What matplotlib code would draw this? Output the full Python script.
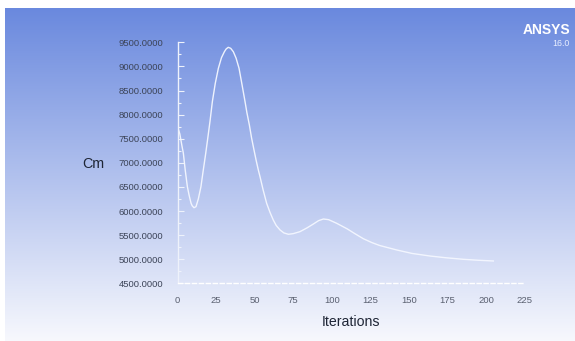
import numpy as np
import matplotlib
matplotlib.use("Agg")
from matplotlib import pyplot as plt
from matplotlib.ticker import MultipleLocator, FormatStrFormatter

# moment coefficient history read from the monitor
iterations = [0, 1.5, 3, 3.8, 5, 6.4, 7.5, 8.8, 9.5, 10.7, 12, 13.5, 15.2,
              16.5, 18.3, 19.5, 21.1, 22.6, 24.5, 26.5, 28.5, 30.4, 31.5,
              32.9, 34.5, 36.2, 38, 39.9, 41.5, 43.8, 45, 46.6, 48, 49.6, 51,
              52.4, 53.5, 55.5, 57.8, 60, 62.1, 64, 66.5, 69, 71.9, 75, 79.4,
              84, 88.1, 91.5, 94.6, 98, 103.2, 110, 115, 120.5, 126, 131, 142.2,
              152, 163.7, 174, 185.3, 195, 204.8]
cm = [7753, 7600, 7330, 7197, 6850, 6504, 6330, 6160, 6110, 6068, 6090, 6250,
      6504, 6800, 7197, 7480, 7867, 8268, 8650, 8961, 9180, 9305, 9360,
      9396, 9375, 9305, 9170, 8961, 8680, 8268, 8040, 7784, 7520, 7266, 7050,
      6851, 6712, 6440, 6160, 5970, 5813, 5700, 5606, 5545, 5517, 5530, 5571,
      5650, 5730, 5800, 5834, 5820, 5745, 5630, 5530, 5425, 5345, 5285, 5191,
      5120, 5066, 5030, 4998, 4978, 4963]

W, H = 575, 341
fig = plt.figure(figsize=(W / 100, H / 100), dpi=100)
fig.patch.set_facecolor('white')

# blue-to-white backdrop
bg = fig.add_axes([5 / W, 0, (W - 5) / W, (H - 8) / H])
top = np.array([106, 137, 222]) / 255
bot = np.array([247, 248, 253]) / 255
t = np.linspace(0, 1, 256)[:, None]
grad = (top * (1 - t) + bot * t)[:, None, :]
bg.imshow(grad, aspect='auto', extent=[0, 1, 0, 1])
bg.set_axis_off()

x0, x1 = 177.5, 524.5
y_top, y_bot = 42.3, 283.3
ax = fig.add_axes([x0 / W, (H - y_bot) / H, (x1 - x0) / W, (y_bot - y_top) / H])
ax.patch.set_alpha(0)

ax.plot(iterations, cm, color='#f4f7ff', lw=1.0, alpha=0.95,
        solid_joinstyle='round')

ax.set_xlim(0, 225)
ax.set_ylim(4500, 9500)
ax.xaxis.set_major_locator(MultipleLocator(25))
ax.yaxis.set_major_locator(MultipleLocator(500))
ax.yaxis.set_minor_locator(MultipleLocator(250))
ax.yaxis.set_major_formatter(FormatStrFormatter('%.4f'))

for s in ['top', 'right']:
    ax.spines[s].set_visible(False)
ax.spines['left'].set_color('#eef2fb')
ax.spines['left'].set_linewidth(1.0)
ax.spines['bottom'].set_color('#ffffff')
ax.spines['bottom'].set_linewidth(1.0)
ax.spines['bottom'].set_linestyle((0, (3, 2)))

ax.tick_params(axis='y', which='major', direction='in', length=4, width=0.8,
               color='#eef2fb', labelsize=6.8, labelcolor='#3c4458', pad=10)
ax.tick_params(axis='y', which='minor', direction='in', length=2, width=0.8,
               color='#eef2fb')
ax.tick_params(axis='x', which='major', length=0, labelsize=6.8,
               labelcolor='#5a6070', pad=9)
for lab in ax.get_xticklabels() + ax.get_yticklabels():
    lab.set_family('Liberation Sans')

ax.set_xlabel('Iterations', fontsize=10.2, family='Liberation Sans',
              color='#1e2535', labelpad=7)
fig.text(93 / W, 1 - 164 / H, 'Cm', fontsize=10.3, family='Liberation Sans',
         color='#1e2535', ha='center', va='center')

fig.text(570 / W, 1 - 30.5 / H, 'ANSYS', fontsize=10, fontweight='bold',
         family='Liberation Sans', color='white', ha='right', va='center')
fig.text(570 / W, 1 - 43 / H, '16.0', fontsize=6.3, family='Liberation Sans',
         color='#e8eeff', ha='right', va='center')

fig.savefig('out.png', dpi=100)
